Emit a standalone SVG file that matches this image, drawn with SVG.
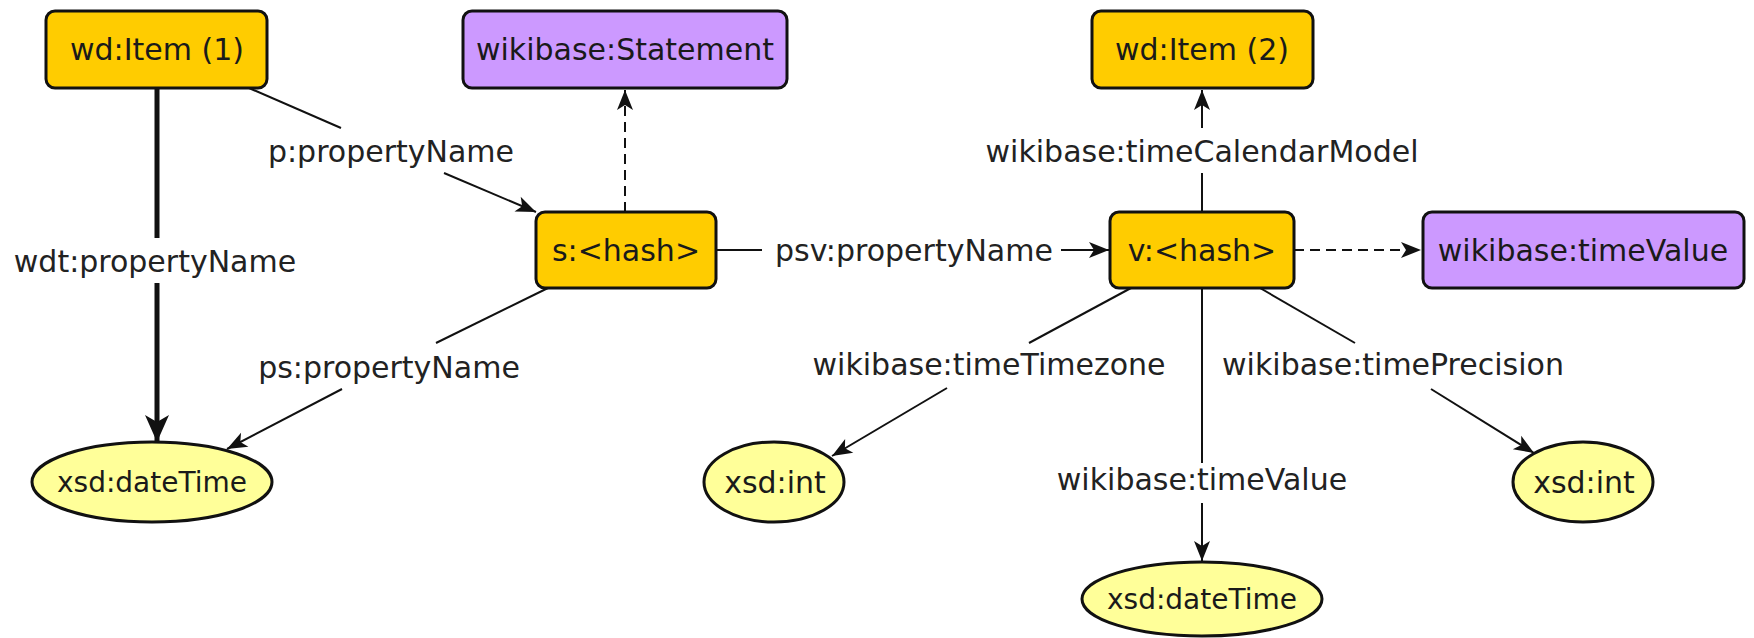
<svg xmlns="http://www.w3.org/2000/svg" width="1754" height="638" viewBox="0 0 1754 638">
  <style>
    .item { fill: #ffcc00; stroke: #111; stroke-width: 3; }
    .cls { fill: #cc99ff; stroke: #111; stroke-width: 3; }
    .lit { fill: #ffff99; stroke: #111; stroke-width: 3; }
    .nt { font-family: "DejaVu Sans", "Liberation Sans", sans-serif; font-size: 30px; fill: #1a1a1a; text-anchor: middle; }
    .nt-s { font-size: 28px; }
    .el { font-family: "DejaVu Sans", "Liberation Sans", sans-serif; font-size: 30px; fill: #222; text-anchor: middle; }
    .ln { fill: none; stroke: #111; stroke-width: 2; }
    .thick { stroke-width: 5; }
    .dash { stroke-dasharray: 10 6; }
  </style>
  <defs>
    <marker id="arrow" viewBox="-1 -10 22 20" markerWidth="22" markerHeight="20" refX="20" refY="0" markerUnits="userSpaceOnUse" orient="auto">
      <path d="M0,-8 L20,0 L0,8 L5,0 z" fill="#111"/>
    </marker>
    <marker id="arrow-big" viewBox="-1 -13 29 26" markerWidth="29" markerHeight="26" refX="27" refY="0" markerUnits="userSpaceOnUse" orient="auto">
      <path d="M0,-12 L27,0 L0,12 L7,0 z" fill="#111"/>
    </marker>
  </defs>

  <!-- connectors: each edge is split around its label -->
  <g id="connectors">
    <!-- wdt:propertyName -->
    <line class="ln thick" x1="157" y1="88" x2="157" y2="238"/>
    <line class="ln thick" x1="157" y1="283" x2="157" y2="442" marker-end="url(#arrow-big)"/>
    <text class="el" x="155" y="272">wdt:propertyName</text>

    <!-- p:propertyName -->
    <line class="ln" x1="249" y1="88" x2="341" y2="128"/>
    <line class="ln" x1="444" y1="173" x2="536" y2="212" marker-end="url(#arrow)"/>
    <text class="el" x="391" y="162">p:propertyName</text>

    <!-- ps:propertyName -->
    <line class="ln" x1="548" y1="288" x2="436" y2="343"/>
    <line class="ln" x1="342" y1="389" x2="227" y2="449" marker-end="url(#arrow)"/>
    <text class="el" x="389" y="378">ps:propertyName</text>

    <!-- statement type -->
    <line class="ln dash" x1="625" y1="212" x2="625" y2="90" marker-end="url(#arrow)"/>

    <!-- psv:propertyName -->
    <line class="ln" x1="716" y1="250" x2="762" y2="250"/>
    <line class="ln" x1="1061" y1="250" x2="1109" y2="250" marker-end="url(#arrow)"/>
    <text class="el" x="914" y="261">psv:propertyName</text>

    <!-- wikibase:timeCalendarModel -->
    <line class="ln" x1="1202" y1="212" x2="1202" y2="173"/>
    <line class="ln" x1="1202" y1="128" x2="1202" y2="90" marker-end="url(#arrow)"/>
    <text class="el" x="1202" y="162">wikibase:timeCalendarModel</text>

    <!-- value type -->
    <line class="ln dash" x1="1294" y1="250" x2="1421" y2="250" marker-end="url(#arrow)"/>

    <!-- wikibase:timeTimezone -->
    <line class="ln" x1="1131" y1="288" x2="1029" y2="343"/>
    <line class="ln" x1="947" y1="388" x2="832" y2="456" marker-end="url(#arrow)"/>
    <text class="el" x="989" y="375">wikibase:timeTimezone</text>

    <!-- wikibase:timeValue -->
    <line class="ln" x1="1202" y1="288" x2="1202" y2="463"/>
    <line class="ln" x1="1202" y1="503" x2="1202" y2="561" marker-end="url(#arrow)"/>
    <text class="el" x="1202" y="490">wikibase:timeValue</text>

    <!-- wikibase:timePrecision -->
    <line class="ln" x1="1260" y1="288" x2="1355" y2="343"/>
    <line class="ln" x1="1431" y1="389" x2="1534" y2="453" marker-end="url(#arrow)"/>
    <text class="el" x="1393" y="375">wikibase:timePrecision</text>
  </g>

  <!-- nodes -->
  <g id="wd-item-1">
    <rect class="item" x="46" y="11" width="221" height="77" rx="9"/>
    <text class="nt" x="157" y="60">wd:Item (1)</text>
  </g>
  <g id="wikibase-statement">
    <rect class="cls" x="463" y="11" width="324" height="77" rx="9"/>
    <text class="nt" x="625" y="60">wikibase:Statement</text>
  </g>
  <g id="wd-item-2">
    <rect class="item" x="1092" y="11" width="221" height="77" rx="9"/>
    <text class="nt" x="1202" y="60">wd:Item (2)</text>
  </g>
  <g id="s-hash">
    <rect class="item" x="536" y="212" width="180" height="76" rx="9"/>
    <text class="nt" x="626" y="261">s:&lt;hash&gt;</text>
  </g>
  <g id="v-hash">
    <rect class="item" x="1110" y="212" width="184" height="76" rx="9"/>
    <text class="nt" x="1202" y="261">v:&lt;hash&gt;</text>
  </g>
  <g id="wikibase-timevalue">
    <rect class="cls" x="1423" y="212" width="321" height="76" rx="9"/>
    <text class="nt" x="1583" y="261">wikibase:timeValue</text>
  </g>
  <g id="xsd-datetime-1">
    <ellipse class="lit" cx="152" cy="482" rx="120" ry="40"/>
    <text class="nt nt-s" x="152" y="492">xsd:dateTime</text>
  </g>
  <g id="xsd-int-1">
    <ellipse class="lit" cx="774" cy="482" rx="70" ry="40"/>
    <text class="nt" x="775" y="493">xsd:int</text>
  </g>
  <g id="xsd-int-2">
    <ellipse class="lit" cx="1583" cy="482" rx="70" ry="40"/>
    <text class="nt" x="1584" y="493">xsd:int</text>
  </g>
  <g id="xsd-datetime-2">
    <ellipse class="lit" cx="1202" cy="599" rx="120" ry="37"/>
    <text class="nt nt-s" x="1202" y="609">xsd:dateTime</text>
  </g>
</svg>
